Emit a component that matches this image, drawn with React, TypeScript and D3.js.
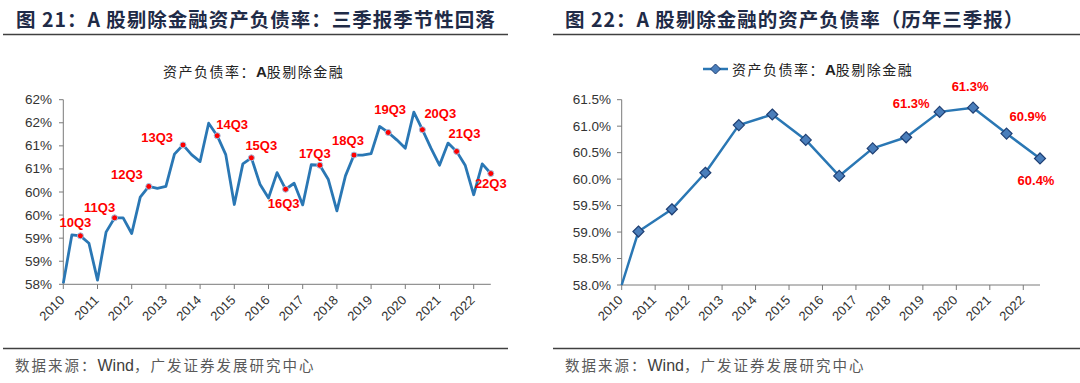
import React from "react";
import * as d3 from "d3";

// ---------- data ----------
const years = ["2010","2011","2012","2013","2014","2015","2016","2017","2018","2019","2020","2021","2022"];
// quarterly debt ratio (%), 2010Q1 .. 2022Q3
const quarterlyRatio = [
  58.02, 59.07, 59.05, 58.89,
  58.09, 59.13, 59.44, 59.44,
  59.10, 59.89, 60.12, 60.08,
  60.12, 60.82, 61.02, 60.81,
  60.66, 61.49, 61.22, 60.81,
  59.73, 60.61, 60.74, 60.17,
  59.87, 60.42, 60.06, 60.19,
  59.72, 60.59, 60.58, 60.27,
  59.59, 60.35, 60.80, 60.80,
  60.83, 61.42, 61.29, 61.13,
  60.95, 61.73, 61.35, 60.95,
  60.58, 61.06, 60.88, 60.58,
  59.94, 60.61, 60.40,
];
const q3Labels = ["10Q3","11Q3","12Q3","13Q3","14Q3","15Q3","16Q3","17Q3","18Q3","19Q3","20Q3","21Q3","22Q3"];
const leftYTicks = [58, 58.5, 59, 59.5, 60, 60.5, 61, 61.5, 62];
const leftYTickLabels = ["58%","59%","59%","60%","60%","61%","61%","62%","62%"];

// annual Q3 values (%)
const annualQ3 = [59.01, 59.43, 60.12, 61.02, 61.22, 60.74, 60.06, 60.58, 60.79, 61.27, 61.35, 60.86, 60.39];
const rightStartValue = 58.0;
const rightYTicks = [58, 58.5, 59, 59.5, 60, 60.5, 61, 61.5];
const rightLabelYears = ["2019","2020","2021","2022"];
const rightLabelTexts = ["61.3%","61.3%","60.9%","60.4%"];

const titleLeft = "图 21：A 股剔除金融资产负债率：三季报季节性回落";
const titleRight = "图 22：A 股剔除金融的资产负债率（历年三季报）";
const subtitleCn = "资产负债率：";
const subtitleA = "A";
const subtitleRest = "股剔除金融";
const sourceCn1 = "数据来源：";
const sourceWind = "Wind";
const sourceCn2 = "，广发证券发展研究中心";

// ---------- label placement (layout, not data) ----------
const leftLabelPlace: [number, number, string][] = [
  [-5, -9, "middle"], [-15, -6, "middle"], [-6, -7, "end"], [-10, -3, "end"],
  [-1, -7, "start"], [-6, -8, "start"], [-2, 19, "middle"], [-5, -7, "middle"],
  [-6, -10, "middle"], [2, -18, "middle"], [2, -12, "start"], [-8, -13, "start"],
  [0, 14, "middle"],
];
const rightLabelPlace: [number, number, string][] = [
  [-10, -4, "end"], [-3, -17, "middle"], [3, -13, "start"], [-4, 27, "middle"],
];

const LINE = "#2a77b4";
const AXIS = "#7a7a7a";
const TXT = "#333333";
const TITLE = "#1f2b47";
const FONT = "'Liberation Sans', Arial, 'Noto Sans CJK SC', sans-serif";
const CJK = "'Noto Sans CJK SC', sans-serif";

function Subtitle({ x, y }: { x: number; y: number }) {
  return (
    <text x={x} y={y} fontFamily={CJK} fontSize={14} fill="#222">
      <tspan letterSpacing={1.5}>{subtitleCn}</tspan>
      <tspan fontFamily={FONT} fontWeight={700} fontSize={15}>{subtitleA}</tspan>
      <tspan letterSpacing={1.5}>{subtitleRest}</tspan>
    </text>
  );
}

function Source({ x, y }: { x: number; y: number }) {
  return (
    <text x={x} y={y} fontFamily={CJK} fontSize={14.5} fill="#595959">
      <tspan letterSpacing={2}>{sourceCn1}</tspan>
      <tspan fontFamily={FONT} fontSize={16} fill="#404040">{sourceWind}</tspan>
      <tspan letterSpacing={2}>{sourceCn2}</tspan>
    </text>
  );
}

export default function App() {
  // left scales
  const lx = d3.scaleLinear().domain([0, quarterlyRatio.length - 1]).range([63.3, 490.8]);
  const ly = d3.scaleLinear().domain([58, 62]).range([284.3, 99.7]);
  const lline = d3.line<number>().x((_, i) => lx(i)).y((d) => ly(d));

  // right scales
  const rx = d3.scaleLinear().domain([-0.5, years.length - 1]).range([621.7, 1040]);
  const ry = d3.scaleLinear().domain([58, 61.5]).range([285, 99.7]);
  const rPts: [number, number][] = [[-0.5, rightStartValue], ...annualQ3.map((v, i) => [i, v] as [number, number])];
  const rline = d3.line<[number, number]>().x((d) => rx(d[0])).y((d) => ry(d[1]));

  const diamond = (cx: number, cy: number, r: number) =>
    `M${cx},${cy - r}L${cx + r},${cy}L${cx},${cy + r}L${cx - r},${cy}Z`;

  return (
    <svg width={1080} height={383} style={{ position: "absolute", left: 0, top: 0, background: "#fff" }}>
      {/* ---------- LEFT PANEL ---------- */}
      <text x={16} y={27} fontFamily={CJK} fontWeight={700} fontSize={19.5} fill={TITLE} letterSpacing={1}>{titleLeft}</text>
      <line x1={3} x2={508} y1={34.5} y2={34.5} stroke="#404040" strokeWidth={1.5} />
      <Subtitle x={163} y={77} />

      {/* y axis */}
      <line x1={63.3} x2={63.3} y1={99.7} y2={284.3} stroke={AXIS} strokeWidth={1} />
      {leftYTicks.map((t, i) => (
        <g key={"ly" + i}>
          <line x1={59} x2={63.3} y1={ly(t)} y2={ly(t)} stroke={AXIS} />
          <text x={52} y={ly(t) + 4.5} textAnchor="end" fontFamily={FONT} fontSize={13.5} fill={TXT}>{leftYTickLabels[i]}</text>
        </g>
      ))}
      {/* x axis */}
      <line x1={63.3} x2={490.8} y1={284.3} y2={284.3} stroke={AXIS} strokeWidth={1} />
      {years.map((y, k) => (
        <g key={"lx" + y}>
          <line x1={lx(k * 4)} x2={lx(k * 4)} y1={284.3} y2={289} stroke={AXIS} />
          <text transform={`translate(${lx(k * 4) + 2},${301}) rotate(-45)`} textAnchor="end" fontFamily={FONT} fontSize={13} fill={TXT}>{y}</text>
        </g>
      ))}
      <path d={lline(quarterlyRatio) || ""} fill="none" stroke={LINE} strokeWidth={2.8} strokeLinejoin="round" />
      {q3Labels.map((lab, k) => {
        const idx = k * 4 + 2;
        const cx = lx(idx), cy = ly(quarterlyRatio[idx]);
        const [dx, dy, anchor] = leftLabelPlace[k];
        return (
          <g key={lab}>
            <circle cx={cx} cy={cy} r={3} fill="#ff0000" stroke="#9dc3e6" strokeWidth={1} />
            <text x={cx + dx} y={cy + dy} textAnchor={anchor as any} fontFamily={FONT} fontWeight={700} fontSize={13} fill="#ff0000">{lab}</text>
          </g>
        );
      })}

      <line x1={3} x2={508} y1={348.5} y2={348.5} stroke="#404040" strokeWidth={1.5} />
      <Source x={15} y={371} />

      {/* ---------- RIGHT PANEL ---------- */}
      <text x={565} y={27} fontFamily={CJK} fontWeight={700} fontSize={19.5} fill={TITLE} letterSpacing={1}>{titleRight}</text>
      <line x1={553} x2={1080} y1={34.5} y2={34.5} stroke="#404040" strokeWidth={1.5} />
      {/* legend */}
      <line x1={703} x2={728} y1={69} y2={69} stroke={LINE} strokeWidth={2.5} />
      <path d={diamond(715.5, 69, 5)} fill="#4a7ebb" stroke="#1f3f73" strokeWidth={1} />
      <Subtitle x={732} y={75} />

      <line x1={621.7} x2={621.7} y1={99.7} y2={285} stroke={AXIS} strokeWidth={1} />
      {rightYTicks.map((t) => (
        <g key={"ry" + t}>
          <line x1={617} x2={621.7} y1={ry(t)} y2={ry(t)} stroke={AXIS} />
          <text x={611} y={ry(t) + 4.5} textAnchor="end" fontFamily={FONT} fontSize={13.5} fill={TXT}>{d3.format(".1f")(t) + "%"}</text>
        </g>
      ))}
      <line x1={621.7} x2={1040} y1={285} y2={285} stroke={AXIS} strokeWidth={1} />
      {years.map((y, i) => (
        <g key={"rx" + y}>
          <line x1={rx(i - 0.5)} x2={rx(i - 0.5)} y1={285} y2={290} stroke={AXIS} />
          <text transform={`translate(${rx(i - 0.5) + 2},${301}) rotate(-45)`} textAnchor="end" fontFamily={FONT} fontSize={13} fill={TXT}>{y}</text>
        </g>
      ))}
      <path d={rline(rPts) || ""} fill="none" stroke={LINE} strokeWidth={2.5} strokeLinejoin="round" />
      {annualQ3.map((v, i) => (
        <path key={"d" + i} d={diamond(rx(i), ry(v), 5.5)} fill="#4a7ebb" stroke="#1f3f73" strokeWidth={1.2} />
      ))}
      {rightLabelYears.map((yr, k) => {
        const i = years.indexOf(yr);
        const [dx, dy, anchor] = rightLabelPlace[k];
        return (
          <text key={"rl" + yr} x={rx(i) + dx} y={ry(annualQ3[i]) + dy} textAnchor={anchor as any} fontFamily={FONT} fontWeight={700} fontSize={13} fill="#ff0000">{rightLabelTexts[k]}</text>
        );
      })}

      <line x1={553} x2={1080} y1={348.5} y2={348.5} stroke="#404040" strokeWidth={1.5} />
      <Source x={565} y={371} />
    </svg>
  );
}
